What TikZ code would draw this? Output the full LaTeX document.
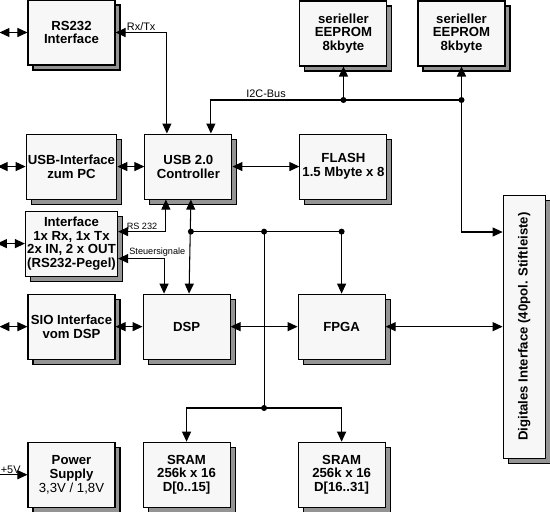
\documentclass[tikz,border=0pt]{standalone}
\usepackage{fontspec}
\setmainfont{Liberation Sans}
\usepackage{tikz}
\usetikzlibrary{positioning,shadows,arrows.meta,calc}

\tikzset{
  blk/.style={draw, line width=0.6pt, fill=white!97!black, minimum width=1.74cm,
    minimum height=1.3cm, inner sep=1pt, align=center,
    font=\fontsize{7.5}{7.9}\selectfont\bfseries,
    general shadow={shadow xshift=0.1cm, shadow yshift=-0.1cm, fill=black!42, draw=black, line width=0.6pt}},
  con/.style={line width=0.6pt},
  lbl/.style={font=\fontsize{6.2}{7}\selectfont, inner sep=1pt},
  slbl/.style={font=\fontsize{5.2}{6}\selectfont, inner sep=1pt}
}

\begin{document}
\begin{tikzpicture}[node distance=0.54cm, >={Triangle[length=0.2cm,width=0.18cm]}]
        \useasboundingbox (0,0) rectangle (11,-10.22);

        \node[blk] (RS) at (1.43,-0.65) {RS232\\Interface};
        \node[blk] (PC) [below = 1.36cm of RS] {USB-Interface\\zum PC};
        \node[blk] (USB) [right = of PC] {USB 2.0\\Controller};
        \node[blk] (FL) [right = 1.34cm of USB] {FLASH\\1.5 Mbyte x 8};
        \node[blk] (EE1) [above = 1.34cm of FL] {serieller\\EEPROM\\8kbyte};
        \node[blk] (EE2) [right = 0.6cm of EE1] {serieller\\EEPROM\\8kbyte};
        \node[blk] (IF) [below = 0.22cm of PC] {Interface\\1x Rx, 1x Tx\\2x IN, 2 x OUT\\(RS232-Pegel)};
        \node[blk] (SIO) [below = 0.34cm of IF] {SIO Interface\\vom DSP};
        \node[blk] (DSP) [right = of SIO] {DSP};
        \node[blk] (FPGA) [right = 1.34cm of DSP] {FPGA};
        \node[blk] (PWR) [below = 1.64cm of SIO] {Power\\Supply\\{\mdseries 3,3V / 1,8V}};
        \node[blk] (SR1) [right = of PWR] {SRAM\\256k x 16\\D[0..15]};
        \node[blk] (SR2) [right = 1.34cm of SR1] {SRAM\\256k x 16\\D[16..31]};
        \node[blk, minimum width=0.84cm, minimum height=5.26cm] (DIG) [right = 2.34cm of FPGA] {};
        \node[rotate=90, font=\fontsize{7.5}{8}\selectfont\bfseries] (DIGt) at (DIG) {Digitales Interface (40pol. Stiftleiste)};

        % free ends and bus points
        \coordinate (rsL) at ([xshift=-0.56cm]RS.west);
        \coordinate (pcL) at ([xshift=-0.56cm]PC.west);
        \coordinate (ifL) at ([xshift=-0.56cm]IF.west);
        \coordinate (sioL) at ([xshift=-0.56cm]SIO.west);
        \coordinate (pwrL) at ([xshift=-0.56cm]PWR.west);
        \coordinate (usbT1) at ([xshift=-0.43cm]USB.north);
        \coordinate (usbT2) at ([xshift=0.45cm]USB.north);
        \coordinate (usbB1) at ([xshift=-0.45cm]USB.south);
        \coordinate (usbB2) at ([xshift=0.05cm]USB.south);
        \coordinate (dspT1) at ([xshift=-0.45cm]DSP.north);
        \coordinate (dspT2) at ([xshift=0.05cm]DSP.north);
        \coordinate (ifA) at ([yshift=0.24cm]IF.east);
        \coordinate (ifB) at ([yshift=-0.3cm]IF.east);
        \coordinate (i2c) at (EE2.south |- 0,-2);
        \coordinate (j1) at (EE1.south |- i2c);
        \coordinate (digA) at (DIG.west |- 0,-4.64);
        \coordinate (mid) at ($(DSP.east)!0.5!(FPGA.west)$);
        \coordinate (b1) at (usbB2 |- ifA);
        \coordinate (b2) at (mid |- b1);
        \coordinate (b3) at (FPGA.north |- b1);
        \coordinate (b4) at (mid |- 0,-8.16);

        \path[con, <->]
            (rsL) edge (RS.west)
            (pcL) edge (PC.west)
            (ifL) edge (IF.west)
            (sioL) edge (SIO.west)
            (PC.east) edge (USB.west)
            (USB.east) edge (FL.west)
            (SIO.east) edge (DSP.west)
            (DSP.east) edge (FPGA.west)
            (FPGA.east) edge (FPGA.east -| DIG.west)
            (usbB2) edge (dspT2);

        \draw[con, <->] (RS.east) -| (usbT1) node[lbl, pos=0.25, above] {Rx/Tx};
        \draw[con, <-] (usbT2) |- (i2c) node[lbl, pos=0.61, above] {I2C-Bus};
        \draw[con, ->] (j1) -- (EE1.south);
        \draw[con, ->] (i2c) -- (EE2.south);
        \draw[con, ->] (i2c) |- (digA);
        \draw[con, <->] (ifA) -| (usbB1) node[slbl, pos=0.25, above] {RS 232};
        \draw[con, <->] (ifB) -| (dspT1) node[slbl, pos=0, above right, xshift=0.18cm] {Steuersignale};
        \draw[con] (b1) -- (b3);
        \draw[con, ->] (b3) -- (FPGA.north);
        \draw[con] (b2) -- (b4);
        \draw[con, ->] (b4) -| (SR1.north);
        \draw[con, ->] (b4) -| (SR2.north);
        \draw[con, ->] (pwrL) -- (PWR.west) node[lbl, pos=0, above right, inner sep=0.5pt] {+5V};

        \foreach \p in {j1, i2c, b1, b2, b3, b4}
            \fill (\p) circle (0.06cm);
\end{tikzpicture}
\end{document}
